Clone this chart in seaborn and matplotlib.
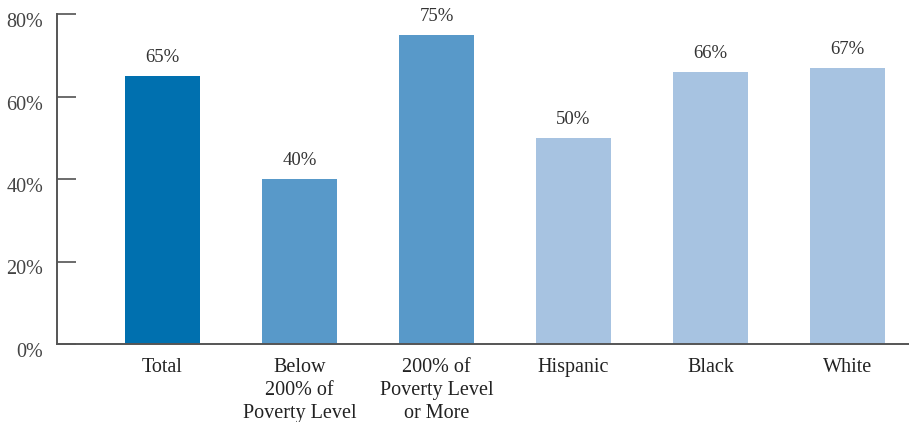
import matplotlib
matplotlib.use("Agg")
import matplotlib.pyplot as plt
import matplotlib.transforms as mtransforms
import seaborn as sns
import pandas as pd

categories = ["Total", "Below\n200% of\nPoverty Level", "200% of\nPoverty Level\nor More",
              "Hispanic", "Black", "White"]
values = [65, 40, 75, 50, 66, 67]
colors = ["#0070AF", "#5899C9", "#5899C9", "#A7C3E1", "#A7C3E1", "#A7C3E1"]
yticks = [0, 20, 40, 60, 80]
ytick_labels = ["0%", "20%", "40%", "60%", "80%"]

sns.set_theme(style="white")
plt.rcParams["font.family"] = ["Liberation Serif", "DejaVu Serif"]

df = pd.DataFrame({"cat": categories, "val": values})

fig = plt.figure(figsize=(9.09, 4.22), dpi=100)
ax = fig.add_axes([57/909, 78/422, 1 - 57/909, 330/422])
sns.barplot(data=df, x="cat", y="val", hue="cat", palette=colors, legend=False,
            width=0.547, ax=ax, saturation=1, linewidth=0)

ax.set_xlim(-0.770, 5.449)
ax.set_ylim(0, 80)
ax.set_yticks(yticks)
ax.set_yticklabels(ytick_labels, fontsize=14.5, color="#444444")
ax.set_xlabel("")
ax.set_ylabel("")
ax.tick_params(axis="y", left=True, direction="in", length=13.5, width=1.1,
               color="#444444", pad=10)
ax.tick_params(axis="x", bottom=False, length=0, pad=10, labelsize=14.5, labelcolor="#222222")
for lab in ax.get_xticklabels():
    lab.set_linespacing(1.3)
off = mtransforms.ScaledTranslation(0, -6/100, fig.dpi_scale_trans)
for lab in ax.get_yticklabels():
    lab.set_transform(lab.get_transform() + off)

for s in ["top", "right"]:
    ax.spines[s].set_visible(False)
for s in ["left", "bottom"]:
    ax.spines[s].set_color("#555555")
    ax.spines[s].set_linewidth(1.4)

for i, v in enumerate(values):
    ax.text(i, v + 2.4, f"{v}%", ha="center", va="bottom", fontsize=13.5, color="#333333")

fig.savefig("out.png", dpi=100)
